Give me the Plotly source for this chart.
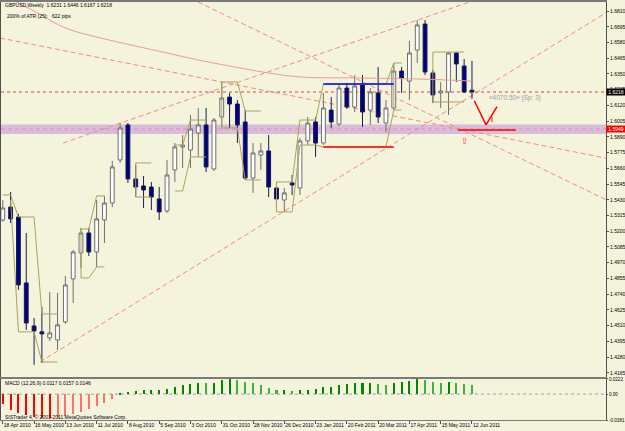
import plotly.graph_objects as go

# ---------------- data ----------------
date_labels = ["18 Apr 2010", "16 May 2010", "13 Jun 2010", "11 Jul 2010", "8 Aug 2010",
               "5 Sep 2010", "3 Oct 2010", "31 Oct 2010", "28 Nov 2010", "26 Dec 2010",
               "23 Jan 2011", "20 Feb 2011", "20 Mar 2011", "17 Apr 2011", "15 May 2011",
               "12 Jun 2011"]
label_step = 4

bar_open = [1.5282, 1.5377, 1.5304, 1.4822, 1.4507, 1.4464, 1.4420, 1.4405, 1.4537, 1.4851,
            1.5041, 1.5187, 1.5048, 1.5282, 1.5406, 1.5721, 1.5977, 1.5582, 1.5531, 1.5523,
            1.5436, 1.5348, 1.5648, 1.5816, 1.5794, 1.5918, 1.5977, 1.5655, 1.6035, 1.6181,
            1.6130, 1.5999, 1.5589, 1.5757, 1.5787, 1.5516, 1.5428, 1.5553, 1.5516, 1.5860,
            1.5999, 1.5845, 1.6086, 1.5984, 1.6247, 1.6108, 1.6269, 1.6086, 1.6211, 1.5991,
            1.6101, 1.6371, 1.6298, 1.6525, 1.6715, 1.6357, 1.6211, 1.6218, 1.6503, 1.6408,
            1.6231]
bar_high = [1.5428, 1.5487, 1.5326, 1.5187, 1.4566, 1.4647, 1.4756, 1.4749, 1.4873, 1.5063,
            1.5224, 1.5224, 1.5428, 1.5458, 1.5714, 1.5991, 1.5991, 1.5684, 1.5604, 1.5560,
            1.5523, 1.5721, 1.5845, 1.5903, 1.6050, 1.6101, 1.6101, 1.6028, 1.6291, 1.6211,
            1.6159, 1.6086, 1.5845, 1.5845, 1.5903, 1.5560, 1.5516, 1.5611, 1.5881, 1.6035,
            1.6035, 1.6211, 1.6181, 1.6269, 1.6284, 1.6342, 1.6342, 1.6247, 1.6401, 1.6159,
            1.6430, 1.6401, 1.6591, 1.6744, 1.6744, 1.6379, 1.6291, 1.6510, 1.6510, 1.6459,
            1.6446]
bar_low = [1.5268, 1.5260, 1.4771, 1.4478, 1.4222, 1.4237, 1.4398, 1.4332, 1.4522, 1.4675,
           1.4931, 1.5019, 1.4939, 1.5114, 1.5377, 1.5699, 1.5553, 1.5450, 1.5370, 1.5355,
           1.5282, 1.5333, 1.5560, 1.5662, 1.5662, 1.5743, 1.5633, 1.5640, 1.5962, 1.5955,
           1.5845, 1.5575, 1.5480, 1.5648, 1.5450, 1.5377, 1.5341, 1.5465, 1.5465, 1.5830,
           1.5743, 1.5830, 1.5955, 1.5969, 1.6094, 1.6072, 1.5962, 1.5977, 1.5991, 1.5925,
           1.6086, 1.6211, 1.6159, 1.6430, 1.6342, 1.6138, 1.6101, 1.6050, 1.6291, 1.6211,
           1.6167]
bar_close = [1.5370, 1.5290, 1.4807, 1.4529, 1.4471, 1.4449, 1.4456, 1.4515, 1.4807, 1.5048,
             1.5187, 1.5048, 1.5290, 1.5406, 1.5670, 1.5955, 1.5582, 1.5523, 1.5502, 1.5450,
             1.5341, 1.5611, 1.5816, 1.5830, 1.5947, 1.5977, 1.5670, 1.6013, 1.6174, 1.6130,
             1.5977, 1.5589, 1.5772, 1.5787, 1.5523, 1.5436, 1.5480, 1.5538, 1.5860, 1.5991,
             1.5845, 1.6101, 1.5999, 1.6247, 1.6108, 1.6262, 1.6072, 1.6218, 1.6035, 1.6101,
             1.6371, 1.6320, 1.6503, 1.6708, 1.6364, 1.6196, 1.6225, 1.6503, 1.6423, 1.6218,
             1.6218]

macd_hist = [-0.0140, -0.0236, -0.0276, -0.0302, -0.0337, -0.0352, -0.0352, -0.0347, -0.0322, -0.0286,
             -0.0261, -0.0226, -0.0176, -0.0136, -0.0075, 0.0005, 0.0030, 0.0045, 0.0055, 0.0055,
             0.0055, 0.0075, 0.0101, 0.0131, 0.0151, 0.0166, 0.0156, 0.0166, 0.0201, 0.0216,
             0.0206, 0.0176, 0.0156, 0.0131, 0.0090, 0.0055, 0.0055, 0.0040, 0.0055, 0.0065,
             0.0080, 0.0101, 0.0106, 0.0141, 0.0151, 0.0166, 0.0166, 0.0166, 0.0151, 0.0141,
             0.0166, 0.0176, 0.0191, 0.0216, 0.0206, 0.0181, 0.0166, 0.0181, 0.0166, 0.0151,
             0.0141]

N = None
range_upper = [1.5465, 1.5465, 1.5304, 1.5304, 1.5304, 1.4595, 1.4595, 1.4595, N, N,
               1.5216, 1.5216, 1.5458, 1.5458, N, N, N, 1.5699, 1.5699, 1.5699,
               N, N, 1.5830, 1.5830, 1.6013, 1.6013, 1.6013, N, 1.6291, 1.6291,
               1.6291, 1.6079, 1.6079, 1.6079, N, 1.5560, 1.5560, 1.5560, 1.6013, 1.6013,
               1.6013, 1.6276, 1.6276, 1.6276, 1.6276, 1.6276, 1.6276, 1.6276, 1.6276, 1.6276,
               1.6430, 1.6430, N, N, N, 1.6510, 1.6510, 1.6510, 1.6510, 1.6510,
               N]
range_lower = [N, 1.5428, 1.4464, 1.4464, 1.4464, 1.4244, 1.4244, 1.4244, N, N,
               1.4858, 1.4858, 1.4939, 1.4939, N, N, N, 1.5450, 1.5450, 1.5450,
               N, N, 1.5494, 1.5494, 1.5743, 1.5743, 1.5743, N, 1.5955, 1.5955,
               1.5955, 1.5575, 1.5575, 1.5575, N, 1.5341, 1.5341, 1.5341, 1.5830, 1.5830,
               1.5830, 1.5816, 1.5816, 1.5816, 1.5816, 1.5816, 1.5816, 1.5816, 1.5816, 1.5816,
               1.6086, 1.6086, N, N, N, 1.6145, 1.6145, 1.6145, 1.6145, 1.6145,
               N]
box_starts = [10, 17, 28, 35, 50, 55]

ma_index = [0, 2, 4, 8, 12, 17, 21, 25, 29, 34, 38, 46, 53, 60]
ma_value = [1.6934, 1.6868, 1.6810, 1.6686, 1.6620, 1.6554, 1.6503, 1.6452, 1.6408, 1.6357,
            1.6328, 1.6320, 1.6313, 1.6298]

# trend lines: (bar0, price0, bar1, price1)
trend_lines = [(-0.36, 1.6613, 77.1, 1.5735),
               (24.96, 1.6876, 77.2, 1.5428),
               (7.7, 1.5845, 60.4, 1.6890),
               (4.76, 1.4244, 77.3, 1.6803)]

last_price = 1.6218
zone_low, zone_high, zone_mid = 1.5911, 1.5980, 1.5947
zone_label = "1.5949"
blue_range = (41, 50, 1.6276)
red_range = (41, 50, 1.5816)
target_line = (58.2, 65.6, 1.5940)
v_bars = [60.3, 61.8, 63.2]
v_prices = [1.6154, 1.5977, 1.6111]
v_tick_bars = [62.56, 62.56]
v_tick_prices = [1.6035, 1.5999]
note_pos = (61.9, 1.6176)
note_text = "«4070.50» (Sp: 3)"
arrow_pos = (59.1, 1.5860)

price_ticks = ["1.6810", "1.6695", "1.6580", "1.6465", "1.6350", "1.6235", "1.6120", "1.6005",
               "1.5890", "1.5775", "1.5660", "1.5545", "1.5430", "1.5315", "1.5200", "1.5085",
               "1.4970", "1.4855", "1.4740", "1.4625", "1.4510", "1.4395", "1.4280", "1.4165"]
macd_ticks = ["0.0222", "0.00", "-0.0381"]

header1 = "GBPUSD,Weekly  1.6231 1.6446 1.6167 1.6218"
header2 = "200% of ATR (25):   622 pips"
macd_title = "MACD (12,26,9) 0.0117 0.0157 0.0146"
copyright_text = "SISTrader 4, © 2001-2011 MetaQuotes Software Corp."

# ---------------- figure ----------------
BG = "#f4f4dc"
FONT = "Liberation Sans"
idx = list(range(len(bar_open)))

fig = go.Figure()

fig.add_trace(go.Candlestick(
    x=idx, open=bar_open, high=bar_high, low=bar_low, close=bar_close,
    increasing=dict(fillcolor="#ffffff", line=dict(color="#6e6e6e", width=1)),
    decreasing=dict(fillcolor="#000080", line=dict(color="#1c1c50", width=1)),
    whiskerwidth=0, xaxis="x", yaxis="y", showlegend=False, hoverinfo="skip"))

olive = "#aaa25a"
fig.add_trace(go.Scatter(x=idx, y=range_upper, mode="lines", connectgaps=False,
                         line=dict(color=olive, width=1), xaxis="x", yaxis="y",
                         showlegend=False, hoverinfo="skip"))
fig.add_trace(go.Scatter(x=idx, y=range_lower, mode="lines", connectgaps=False,
                         line=dict(color=olive, width=1), xaxis="x", yaxis="y",
                         showlegend=False, hoverinfo="skip"))
vx, vy = [], []
for b in box_starts:
    vx += [b, b, None]
    vy += [range_upper[b], range_lower[b], None]
fig.add_trace(go.Scatter(x=vx, y=vy, mode="lines", line=dict(color=olive, width=1),
                         xaxis="x", yaxis="y", showlegend=False, hoverinfo="skip"))

fig.add_trace(go.Scatter(x=ma_index, y=ma_value, mode="lines", line_shape="spline",
                         line=dict(color="#eb9a9a", width=1), xaxis="x", yaxis="y",
                         showlegend=False, hoverinfo="skip"))

for (b0, b1, p), col in [(blue_range, "#0000ff"), (red_range, "#ff0000"), (target_line, "#ff0000")]:
    fig.add_trace(go.Scatter(x=[b0, b1], y=[p, p], mode="lines", line=dict(color=col, width=1.5),
                             xaxis="x", yaxis="y", showlegend=False, hoverinfo="skip"))

fig.add_trace(go.Scatter(x=v_bars, y=v_prices, mode="lines", line=dict(color="#ff0000", width=1.5),
                         xaxis="x", yaxis="y", showlegend=False, hoverinfo="skip"))
fig.add_trace(go.Scatter(x=v_tick_bars, y=v_tick_prices, mode="lines", line=dict(color="#ff0000", width=1),
                         xaxis="x", yaxis="y", showlegend=False, hoverinfo="skip"))

# MACD histogram
colors = []
for i, v in enumerate(macd_hist):
    prev = macd_hist[i - 1] if i > 0 else v
    if v < 0:
        colors.append("#ff0000" if v <= prev else "#ff7070")
    else:
        colors.append("#008800" if v >= prev else "#3cb43c")
fig.add_trace(go.Bar(x=idx, y=macd_hist, width=0.26, marker=dict(color=colors, line=dict(width=0)),
                     xaxis="x2", yaxis="y2", showlegend=False, hoverinfo="skip"))

# ---------------- shapes ----------------
shapes = [
    dict(type="rect", xref="paper", x0=0, x1=1, yref="y", y0=zone_low, y1=zone_high,
         fillcolor="#d9bcd9", line=dict(width=0), layer="below"),
    dict(type="line", xref="paper", x0=0, x1=1, yref="y", y0=zone_mid, y1=zone_mid,
         line=dict(color="#e98aa8", width=1, dash="4px,3px"), layer="below"),
    dict(type="line", xref="paper", x0=0, x1=1, yref="y", y0=last_price, y1=last_price,
         line=dict(color="#ea7a7a", width=1.5, dash="dot"), layer="below"),
    dict(type="line", xref="paper", x0=0, x1=1, yref="y2", y0=0, y1=0,
         line=dict(color="#a0a0a0", width=1, dash="dot"), layer="below"),
]
for b0, p0, b1, p1 in trend_lines:
    shapes.append(dict(type="line", xref="x", yref="y", x0=b0, y0=p0, x1=b1, y1=p1,
                       line=dict(color="#f08a8a", width=1, dash="5px,3px"), layer="below"))

# ---------------- annotations ----------------
small = dict(family=FONT, size=5, color="#000000")
annotations = [
    dict(xref="paper", yref="paper", x=0.0033, y=0.9928, text=header1, showarrow=False,
         xanchor="left", yanchor="middle", font=small),
    dict(xref="paper", yref="paper", x=0.0066, y=0.9665, text=header2, showarrow=False,
         xanchor="left", yanchor="middle", font=small),
    dict(xref="paper", yref="paper", x=0.0033, y=0.0885, text=macd_title, showarrow=False,
         xanchor="left", yanchor="middle", font=small),
    dict(xref="paper", yref="paper", x=0.0033, y=0.0072, text=copyright_text, showarrow=False,
         xanchor="left", yanchor="middle", font=small),
    dict(xref="paper", yref="y", x=1.0, y=last_price, text=f"{last_price:.4f}", showarrow=False,
         xanchor="left", yanchor="middle", bgcolor="#000000", borderpad=0,
         font=dict(family=FONT, size=5, color="#ffffff"), width=18),
    dict(xref="paper", yref="y", x=1.0, y=zone_mid, text=zone_label, showarrow=False,
         xanchor="left", yanchor="middle", bgcolor="#ff0000", borderpad=0,
         font=dict(family=FONT, size=5, color="#ffffff"), width=18),
    dict(xref="x", yref="y", x=note_pos[0], y=note_pos[1], text=note_text, showarrow=False,
         xanchor="left", yanchor="middle", font=dict(family=FONT, size=6.5, color="#a0a0a0")),
    dict(xref="x", yref="y", x=arrow_pos[0], y=arrow_pos[1], text="⇧", showarrow=False,
         xanchor="center", yanchor="middle", font=dict(family="DejaVu Sans", size=9, color="#ff4040")),
]

axis_font = dict(family=FONT, size=5, color="#000000")
x_range = [-0.23, 77.14]

fig.update_layout(
    width=625, height=431, template="none",
    margin=dict(l=1, r=19, t=2, b=11, autoexpand=False),
    paper_bgcolor=BG, plot_bgcolor=BG, showlegend=False, bargap=0,
    shapes=shapes, annotations=annotations,
    xaxis=dict(domain=[0, 1], anchor="y", range=x_range, showticklabels=False, ticks="",
               showgrid=False, zeroline=False, showline=True, linecolor="#7a7a7a", linewidth=2,
               mirror=True, rangeslider=dict(visible=False), automargin=False),
    yaxis=dict(domain=[0.1029, 1], anchor="x", side="right", range=[1.4134, 1.6876],
               tickvals=[float(t) for t in price_ticks], ticktext=price_ticks,
               tickfont=axis_font, ticks="outside", ticklen=2, tickcolor="#505050",
               showgrid=False, zeroline=False, showline=True, linecolor="#505050",
               mirror=True, automargin=False),
    xaxis2=dict(domain=[0, 1], anchor="y2", range=x_range, matches="x",
                tickvals=idx[::label_step], ticktext=date_labels, tickfont=axis_font,
                tickangle=0, ticklabelposition="outside right", ticks="outside", ticklen=3,
                tickcolor="#505050", showgrid=False, zeroline=False, showline=True,
                linecolor="#7a7a7a", linewidth=1, mirror=True, automargin=False),
    yaxis2=dict(domain=[0, 0.0981], anchor="x2", side="right", range=[-0.0381, 0.0222],
                tickvals=[float(t) for t in macd_ticks], ticktext=macd_ticks,
                tickfont=dict(family=FONT, size=4.6, color="#000000"), ticks="outside",
                ticklen=1, tickcolor="#505050",
                showgrid=False, zeroline=False, showline=True, linecolor="#505050",
                mirror=True, automargin=False),
)

fig.write_html("out.html")
